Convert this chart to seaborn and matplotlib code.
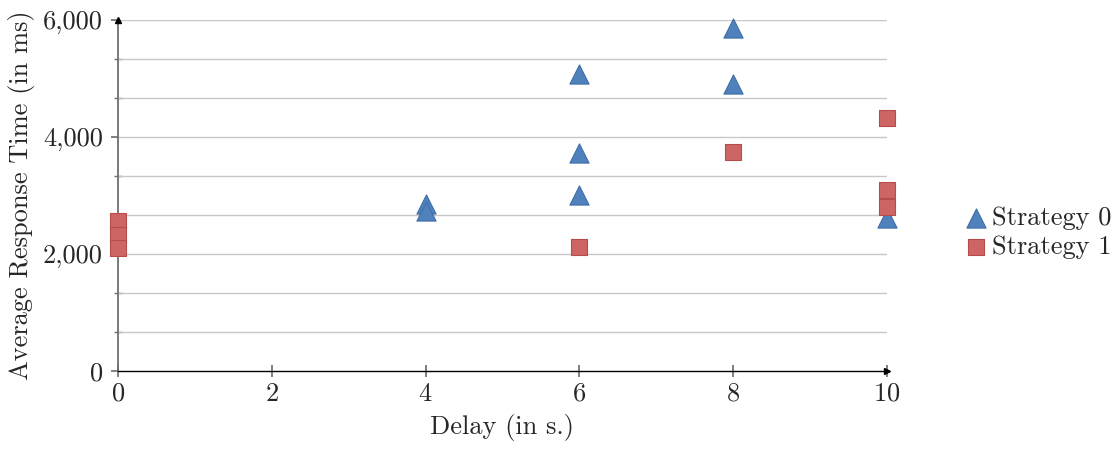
import matplotlib
matplotlib.use("Agg")
import matplotlib.pyplot as plt
import matplotlib.ticker as mticker
import seaborn as sns
import pandas as pd

# Data
s0_delay = [4, 4, 6, 6, 6, 8, 8, 10]
s0_time = [2850, 2730, 5077, 3726, 3009, 5863, 4906, 2620]
s1_delay = [0, 0, 0, 6, 8, 10, 10, 10]
s1_time = [2570, 2320, 2100, 2120, 3744, 4325, 3094, 2803]
series_names = ["Strategy 0", "Strategy 1"]
x_ticks = [0, 2, 4, 6, 8, 10]
y_ticks = [0, 2000, 4000, 6000]

df = pd.DataFrame({
    "Delay": s0_delay + s1_delay,
    "Time": s0_time + s1_time,
    "Series": [series_names[0]] * len(s0_delay) + [series_names[1]] * len(s1_delay),
})

sns.set_theme(style="white")
plt.rcParams["font.family"] = ["cmr10", "DejaVu Serif"]
plt.rcParams["axes.formatter.use_mathtext"] = True
plt.rcParams["mathtext.fontset"] = "cm"

FS = 19

fig = plt.figure(figsize=(11.19, 4.53), dpi=100)
ax = fig.add_axes([118 / 1119, 1 - 371 / 453, (887 - 118) / 1119, (371 - 20) / 453])

palette = {series_names[0]: "#4F81BD", series_names[1]: "#CD6564"}
edges = {series_names[0]: "#3F6FA8", series_names[1]: "#B84C4A"}
markers = {series_names[0]: "^", series_names[1]: "s"}

for name in series_names:
    sub = df[df["Series"] == name]
    sns.scatterplot(data=sub, x="Delay", y="Time", ax=ax, color=palette[name],
                    marker=markers[name], s=190 if name == series_names[0] else 140,
                    edgecolor=edges[name], linewidth=0.8, label=name, zorder=6,
                    clip_on=False)

ax.set_xlim(0, 10)
ax.set_ylim(0, 6000)
ax.set_xticks(x_ticks)
ax.set_yticks(y_ticks)
ax.yaxis.set_minor_locator(mticker.MultipleLocator(2000 / 3))
ax.yaxis.set_major_formatter(mticker.FuncFormatter(lambda v, p: f"{int(v):,}"))
ax.grid(False)
for yv in [i * 2000 / 3 for i in range(1, 10)]:
    ax.axhline(yv, color="#C8C8C8", lw=1.0, zorder=1)

for side in ["top", "right"]:
    ax.spines[side].set_visible(False)
ax.spines["left"].set_color("#707070")
ax.spines["left"].set_linewidth(1.3)
ax.spines["bottom"].set_color("black")
ax.spines["bottom"].set_linewidth(1.0)
ax.spines["left"].set_zorder(4)
ax.spines["bottom"].set_zorder(4)

ax.tick_params(axis="y", which="major", direction="out", length=5, color="#707070",
               left=True, labelsize=FS, pad=6)
ax.tick_params(axis="y", which="minor", direction="inout", length=6, color="#707070", left=True)
ax.tick_params(axis="x", which="major", direction="inout", length=8, color="#707070",
               bottom=True, labelsize=FS, pad=4)

ax.plot(0, 1, marker="^", color="black", markersize=5, transform=ax.transAxes, clip_on=False, zorder=5)
ax.plot(1, 0, marker=">", color="black", markersize=5, transform=ax.transAxes, clip_on=False, zorder=5)

ax.set_xlabel("Delay (in s.)", fontsize=FS, labelpad=6)
ax.set_ylabel("Average Response Time (in ms)", fontsize=FS, labelpad=6)

handles, labels = ax.get_legend_handles_labels()
ax.legend_.remove() if ax.legend_ else None
fig.legend(handles, labels, loc="center left", bbox_to_anchor=(958 / 1119, 1 - 233 / 453),
           frameon=False, fontsize=FS, handletextpad=-0.1, handlelength=1.4,
           labelspacing=0.2, borderaxespad=0, borderpad=0)

fig.savefig("out.png", dpi=100)
